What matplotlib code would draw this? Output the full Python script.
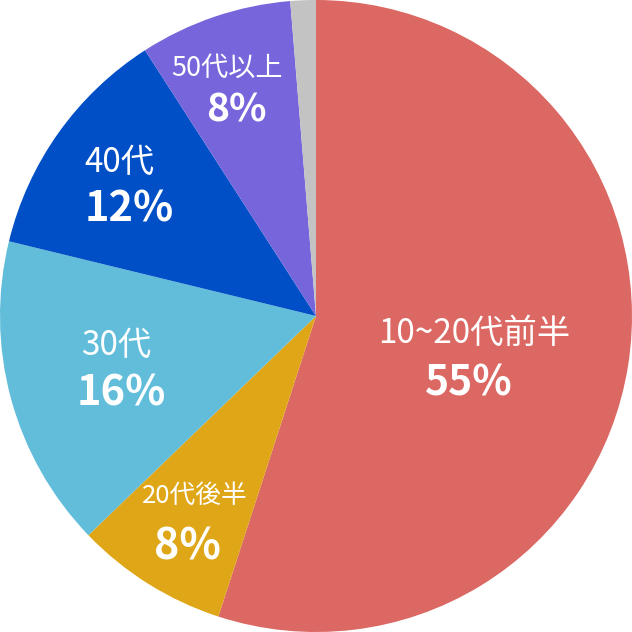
import matplotlib
matplotlib.use("Agg")
import matplotlib.pyplot as plt

categories = ["10~20代前半", "20代後半", "30代", "40代", "50代以上", "その他"]
values = [55.0, 7.8, 16.0, 12.1, 7.8, 1.3]
pct_labels = ["55%", "8%", "16%", "12%", "8%", ""]
colors = ["#DB6862", "#DFA718", "#62BDDA", "#004FC6", "#7766DB", "#C3C3C3"]

W = 632
fig = plt.figure(figsize=(W / 100, W / 100), dpi=100)
ax = fig.add_axes([0, 0, 1, 1])
ax.pie(values, colors=colors, startangle=90, counterclock=False, radius=1.0,
       wedgeprops=dict(linewidth=0))
ax.set_xlim(-1, 1)
ax.set_ylim(-1, 1)
ax.set_aspect("equal")
ax.axis("off")

fam = ["Noto Sans CJK JP", "DejaVu Sans"]

def px(x, y):
    return (x - 316) / 316, (316 - y) / 316

# (label x, label baseline y, label size, pct x, pct baseline y, pct size) in pixel layout
layout = [
    (474.5, 343.3, 24, 468.5, 396.0, 29.5),
    (195.0, 503.3, 18.5, 187.5, 560.0, 31),
    (116.0, 355.0, 24, 121.5, 406.0, 30),
    (119.5, 171.7, 24, 129.0, 221.7, 30),
    (227.0, 76.0, 19.5, 236.0, 121.7, 28),
]

for i, (lx, ly, ls, qx, qy, qs) in enumerate(layout):
    x, y = px(lx, ly)
    ax.text(x, y, categories[i], ha="center", va="baseline", color="white",
            fontsize=ls, family=fam)
    x, y = px(qx, qy)
    ax.text(x, y, pct_labels[i], ha="center", va="baseline", color="white",
            fontsize=qs, fontweight="bold", family=fam)

fig.savefig("out.png", dpi=100, facecolor="white")
